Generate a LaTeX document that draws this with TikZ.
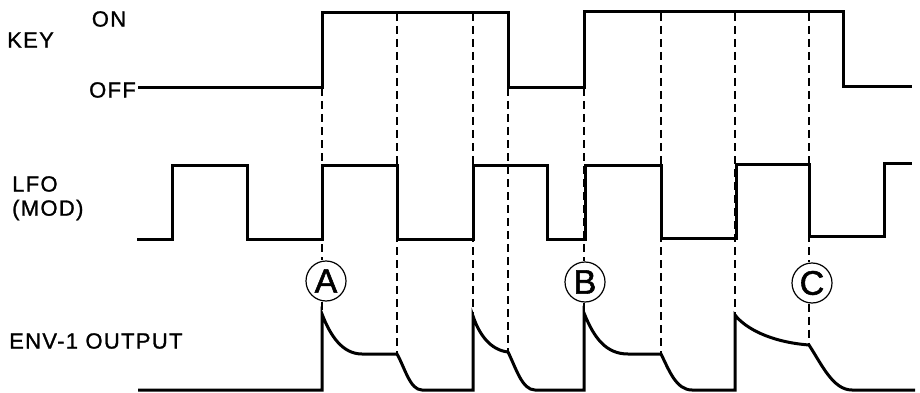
\documentclass[tikz,border=0pt]{standalone}
\usepackage{fontspec}
\newfontfamily\labfont[LetterSpace=6,FakeBold=1.2]{Liberation Sans}
\newfontfamily\circfont[FakeBold=1.6]{Liberation Sans}
\begin{document}
\begin{tikzpicture}[x=1pt,y=-1pt,
  sig/.style={line width=3pt, line join=miter},
  dline/.style={line width=1.3pt, dash pattern=on 8pt off 5pt},
  lab/.style={font=\labfont\fontsize{22}{24}\selectfont, inner sep=0pt},
  lettercircle/.style={draw, circle, line width=1.2pt, minimum size=40pt, inner sep=0pt,
    font=\circfont\fontsize{34}{34}\selectfont}]
\useasboundingbox (0,0) rectangle (920,393);

% labels
\node[lab] (on) at (109,19) {ON};
\node[lab, anchor=west] (key) at (7,40) {KEY};
\node[lab, anchor=east] (off) at (136,90) {OFF};
\node[lab, anchor=west] (lfo) at (12,184) {LFO};
\node[lab, anchor=west] (mod) at (12,210) {(MOD)};
\node[lab, anchor=west] (env) at (9,341) {ENV-1 OUTPUT};

% circled letters
\node[lettercircle] (A) at (326,281) {A};
\node[lettercircle] (B) at (585,282) {B};
\node[lettercircle] (C) at (812,283) {C};

% event coordinates
\coordinate (k1) at (322,88);
\coordinate (e1) at (322,314);
\coordinate (k2) at (397,13);
\coordinate (e2) at (397,354);
\coordinate (k3) at (473,13);
\coordinate (e3) at (473,316);
\coordinate (k4) at (508,88);
\coordinate (e4) at (508,352);
\coordinate (k6) at (584,88);
\coordinate (e6) at (584,313);
\coordinate (k7) at (661,13);
\coordinate (e7) at (661,354);
\coordinate (k8) at (735,13);
\coordinate (e8) at (735,315);
\coordinate (k9) at (809,13);
\coordinate (e9) at (809,345);

% dashed timing lines
\draw[dline] (k1) -- (k1 |- A.north);
\draw[dline] (k1 |- A.south) -- (e1);
\draw[dline] (k2) -- (e2);
\draw[dline] (k3) -- (e3);
\draw[dline] (k4) -- (e4);
\draw[dline] (k6) -- (k6 |- B.north);
\draw[dline] (k6 |- B.south) -- (e6);
\draw[dline] (k7) -- (e7);
\draw[dline] (k8) -- (e8);
\draw[dline] (k9) -- (k9 |- C.north);
\draw[dline] (k9 |- C.south) -- (e9);

% KEY signal
\draw[sig] (off.east) ++(2,-2) coordinate (ks) (ks) -- (322,88) -- (322,13) -- (508,13) -- (508,88)
  -- (584,88) -- (584,12) -- (843,12) -- (843,87) -- (912,87);

% LFO signal
\draw[sig] (137,239) -- (172,239) -- (172,165) -- (247,165) -- (247,239) -- (322,239)
  -- (322,165) -- (397,165) -- (397,239) -- (473,239) -- (473,165) -- (547,165)
  -- (547,239) -- (585,239) -- (585,165) -- (661,165) -- (661,238) -- (736,238)
  -- (736,164) -- (809,164) -- (809,236) -- (884,236) -- (884,163) -- (912,163);

% ENV-1 output
\draw[sig] (138,390) -- (322,390) -- (e1)
  .. controls (330,335) and (342,354) .. (362,354) -- (e2)
  .. controls (405,368) and (410,390) .. (422,390) -- (473,390) -- (e3)
  .. controls (479,334) and (490,350) .. (e4)
  .. controls (516,368) and (522,390) .. (535,390) -- (584,390) -- (e6)
  .. controls (594,338) and (606,354) .. (628,354) -- (e7)
  .. controls (669,370) and (676,390) .. (692,390) -- (735,390) -- (e8)
  .. controls (745,328) and (770,342) .. (e9)
  .. controls (822,365) and (833,390) .. (852,390) -- (915,390);
\end{tikzpicture}
\end{document}
